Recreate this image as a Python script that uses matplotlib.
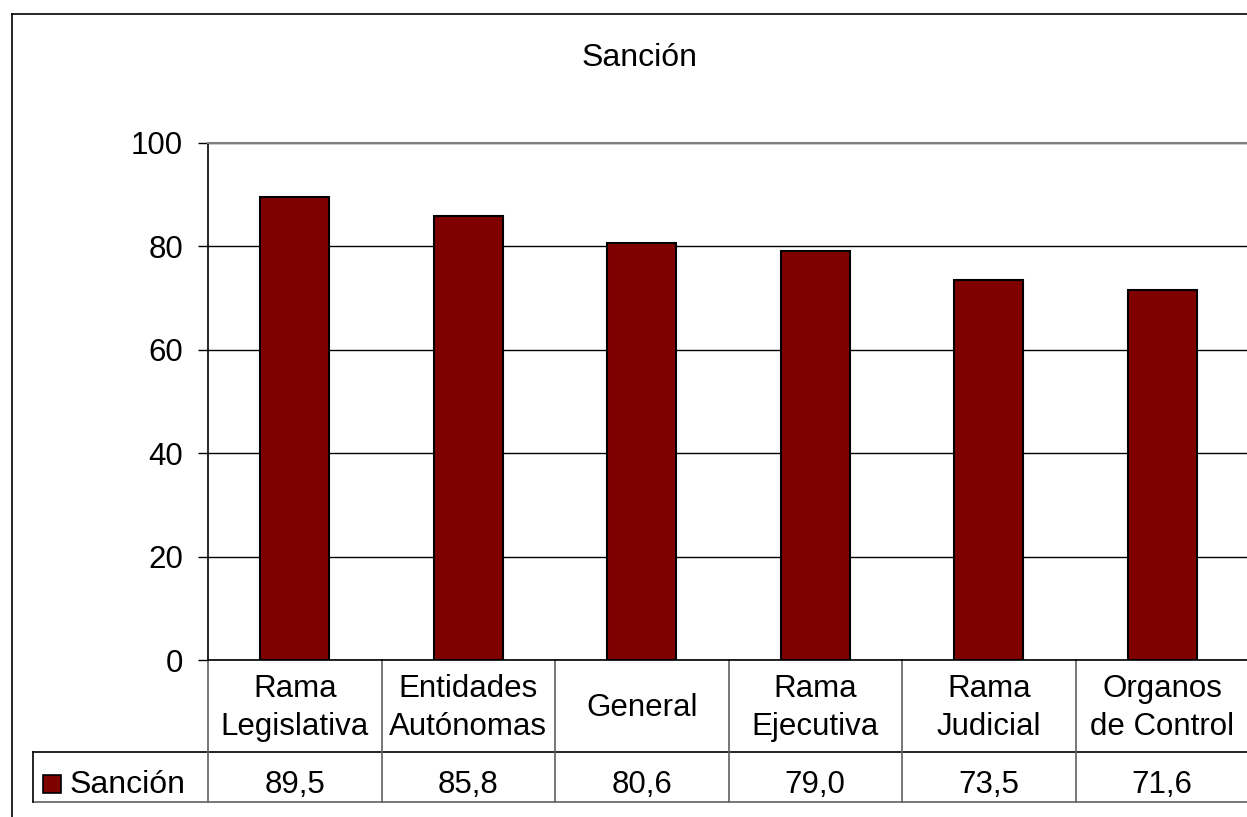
import matplotlib
matplotlib.use('Agg')
import matplotlib.pyplot as plt
from matplotlib.lines import Line2D
from matplotlib.patches import Rectangle
import matplotlib.transforms as mtransforms

plt.rcParams['font.family'] = ['Liberation Sans', 'DejaVu Sans']

# data
categories = ['Rama\nLegislativa', 'Entidades\nAutónomas', 'General',
              'Rama\nEjecutiva', 'Rama\nJudicial', 'Organos\nde Control']
values = [89.5, 85.8, 80.6, 79.0, 73.5, 71.6]
value_labels = ['89,5', '85,8', '80,6', '79,0', '73,5', '71,6']
series_name = 'Sanción'
yticks = [0, 20, 40, 60, 80, 100]

W, H = 1247, 817
fig = plt.figure(figsize=(W / 100, H / 100), dpi=100)

# plot area in pixel units (top-left origin) converted to fractions
px_left, px_right, px_top, px_bottom = 208, 1249, 142.7, 660
ax = fig.add_axes([px_left / W, 1 - px_bottom / H,
                   (px_right - px_left) / W, (px_bottom - px_top) / H])

bar_color = '#800000'
x = list(range(len(categories)))
ax.bar(x, values, width=0.4, color=bar_color, edgecolor='black', linewidth=1.5, zorder=3)

ax.set_xlim(-0.5, len(categories) - 0.5)
ax.set_ylim(0, 100)
ax.set_yticks(yticks)
ax.tick_params(axis='y', labelsize=22.5, length=7, width=1, pad=11, direction='out')
ax.set_xticks([])
ax.yaxis.grid(True, color='black', linewidth=1)
ax.set_axisbelow(True)

ax.spines['left'].set_color('black')
ax.spines['bottom'].set_color('black')
ax.spines['top'].set_color('#808080')
ax.spines['top'].set_linewidth(1.5)
ax.spines['right'].set_visible(False)
for s in ['left', 'bottom']:
    ax.spines[s].set_linewidth(1.2)

# data table below the plot
trans = mtransforms.blended_transform_factory(ax.transData, ax.transAxes)
px_h = px_bottom - px_top
def ypix(p):
    # pixel row (from top) -> axes fraction
    return -(p - px_bottom) / px_h

row1_bot = ypix(752)
row2_bot = ypix(802)
left_edge = (33 - px_left) / 173.5 - 0.5
n = len(categories)
line_kw = dict(transform=trans, clip_on=False, linewidth=1.2)

# horizontal lines
ax.add_line(Line2D([-0.5, n - 0.5], [row1_bot, row1_bot], color='black', **line_kw))
ax.add_line(Line2D([left_edge, -0.5], [row1_bot, row1_bot], color='black', **line_kw))
ax.add_line(Line2D([left_edge, n - 0.5], [row2_bot, row2_bot], color='#606060', **line_kw))
# vertical lines
for i in range(n + 1):
    ax.add_line(Line2D([i - 0.5, i - 0.5], [0, row2_bot], color='#606060', **line_kw))
ax.add_line(Line2D([left_edge, left_edge], [row1_bot, row2_bot], color='black', **line_kw))

for i, (cat, lab) in enumerate(zip(categories, value_labels)):
    lines = cat.split('\n')
    if len(lines) == 2:
        ax.text(i, ypix(697), lines[0], transform=trans, ha='center', va='baseline', fontsize=22.5)
        ax.text(i, ypix(735), lines[1], transform=trans, ha='center', va='baseline', fontsize=22.5)
    else:
        ax.text(i, ypix(716), lines[0], transform=trans, ha='center', va='baseline', fontsize=22.5)
    ax.text(i, ypix(793), lab, transform=trans, ha='center', va='baseline', fontsize=22.5)

# legend key in the table
fig.patches.append(Rectangle((43 / W, 1 - 793 / H), 18 / W, 18 / H,
                             transform=fig.transFigure, facecolor=bar_color,
                             edgecolor='black', linewidth=1.2))
fig.text(70 / W, 1 - 793 / H, series_name, ha='left', va='baseline', fontsize=23)

# title
fig.text(640 / W, 1 - 58 / H, 'Sanción', ha='center', va='center', fontsize=23)

# outer chart frame
fig.add_artist(Line2D([12 / W, 12 / W], [0, 1 - 14 / H], color='black',
                      linewidth=1.2, transform=fig.transFigure))
fig.add_artist(Line2D([12 / W, 1], [1 - 14 / H, 1 - 14 / H], color='black',
                      linewidth=1.2, transform=fig.transFigure))

fig.savefig('out.png', dpi=100)
